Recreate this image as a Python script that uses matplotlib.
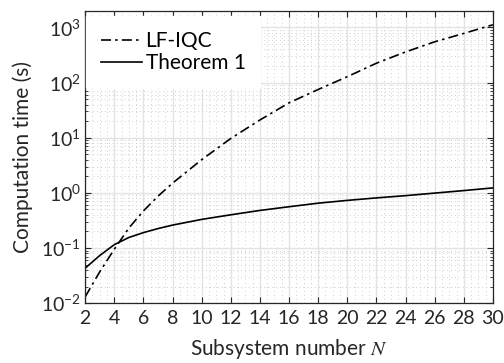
import matplotlib
matplotlib.use("Agg")
import matplotlib.pyplot as plt
import numpy as np
from matplotlib.ticker import MultipleLocator, LogLocator, NullFormatter

plt.rcParams['font.family'] = ['Lato', 'DejaVu Sans']
plt.rcParams['mathtext.fontset'] = 'stix'

# subsystem number
N = [2, 3, 4, 5, 6, 7, 8, 10, 12, 14, 16, 18, 20, 22, 24, 26, 28, 30]
# computation time (s)
t_lfiqc = [0.013, 0.037, 0.095, 0.23, 0.47, 0.87, 1.5, 4.0, 9.7, 21, 43, 75, 128, 225, 360, 550, 780, 1120]
t_thm1 = [0.043, 0.073, 0.115, 0.155, 0.19, 0.225, 0.26, 0.33, 0.40, 0.48, 0.56, 0.65, 0.73, 0.81, 0.89, 0.99, 1.10, 1.23]

fig = plt.figure(figsize=(5.04, 3.63), dpi=100)
ax = fig.add_axes([0.169, 0.165, 0.809, 0.805])

ax.semilogy(N, t_lfiqc, color='black', linestyle=(0, (6, 2.5, 1.5, 2.5)), linewidth=1.2, label='LF-IQC')
ax.semilogy(N, t_thm1, color='black', linestyle='-', linewidth=1.2, label='Theorem 1')

ax.set_xlim(2, 30)
ax.set_ylim(1e-2, 2e3)
ax.xaxis.set_major_locator(MultipleLocator(2))
ax.xaxis.set_minor_locator(MultipleLocator(0.5))
ax.yaxis.set_major_locator(LogLocator(base=10, numticks=10))
ax.yaxis.set_minor_locator(LogLocator(base=10, subs=np.arange(2, 10), numticks=20))
ax.yaxis.set_minor_formatter(NullFormatter())

ax.grid(which='major', color='#e3e3e3', linestyle='-', linewidth=1.0)
ax.grid(which='minor', color='#cfcfcf', linestyle=(0, (1, 3)), linewidth=0.7)
ax.set_axisbelow(True)

ax.tick_params(which='both', direction='in', top=True, right=True, colors='#262626',
               labelcolor='#262626', labelsize=14)
ax.tick_params(which='major', length=4, width=0.8)
ax.tick_params(which='minor', length=2, width=0.6)
ax.tick_params(axis='x', which='minor', length=0)
ax.tick_params(axis='x', pad=5)
ax.tick_params(axis='y', pad=3)
for sp in ax.spines.values():
    sp.set_color('#262626')
    sp.set_linewidth(0.9)

ax.set_xlabel('Subsystem number $N$', fontsize=15, color='#262626', labelpad=7)
ax.set_ylabel('Computation time (s)', fontsize=15, color='#262626', labelpad=6)

leg = ax.legend(loc='upper left', bbox_to_anchor=(0.0, 0.985), fontsize=15,
                frameon=True, fancybox=False, edgecolor='white', framealpha=1.0,
                borderpad=0.7, handlelength=2.0, handletextpad=0.15,
                labelspacing=0.12, borderaxespad=0.05)

fig.savefig('out.png', dpi=100)
